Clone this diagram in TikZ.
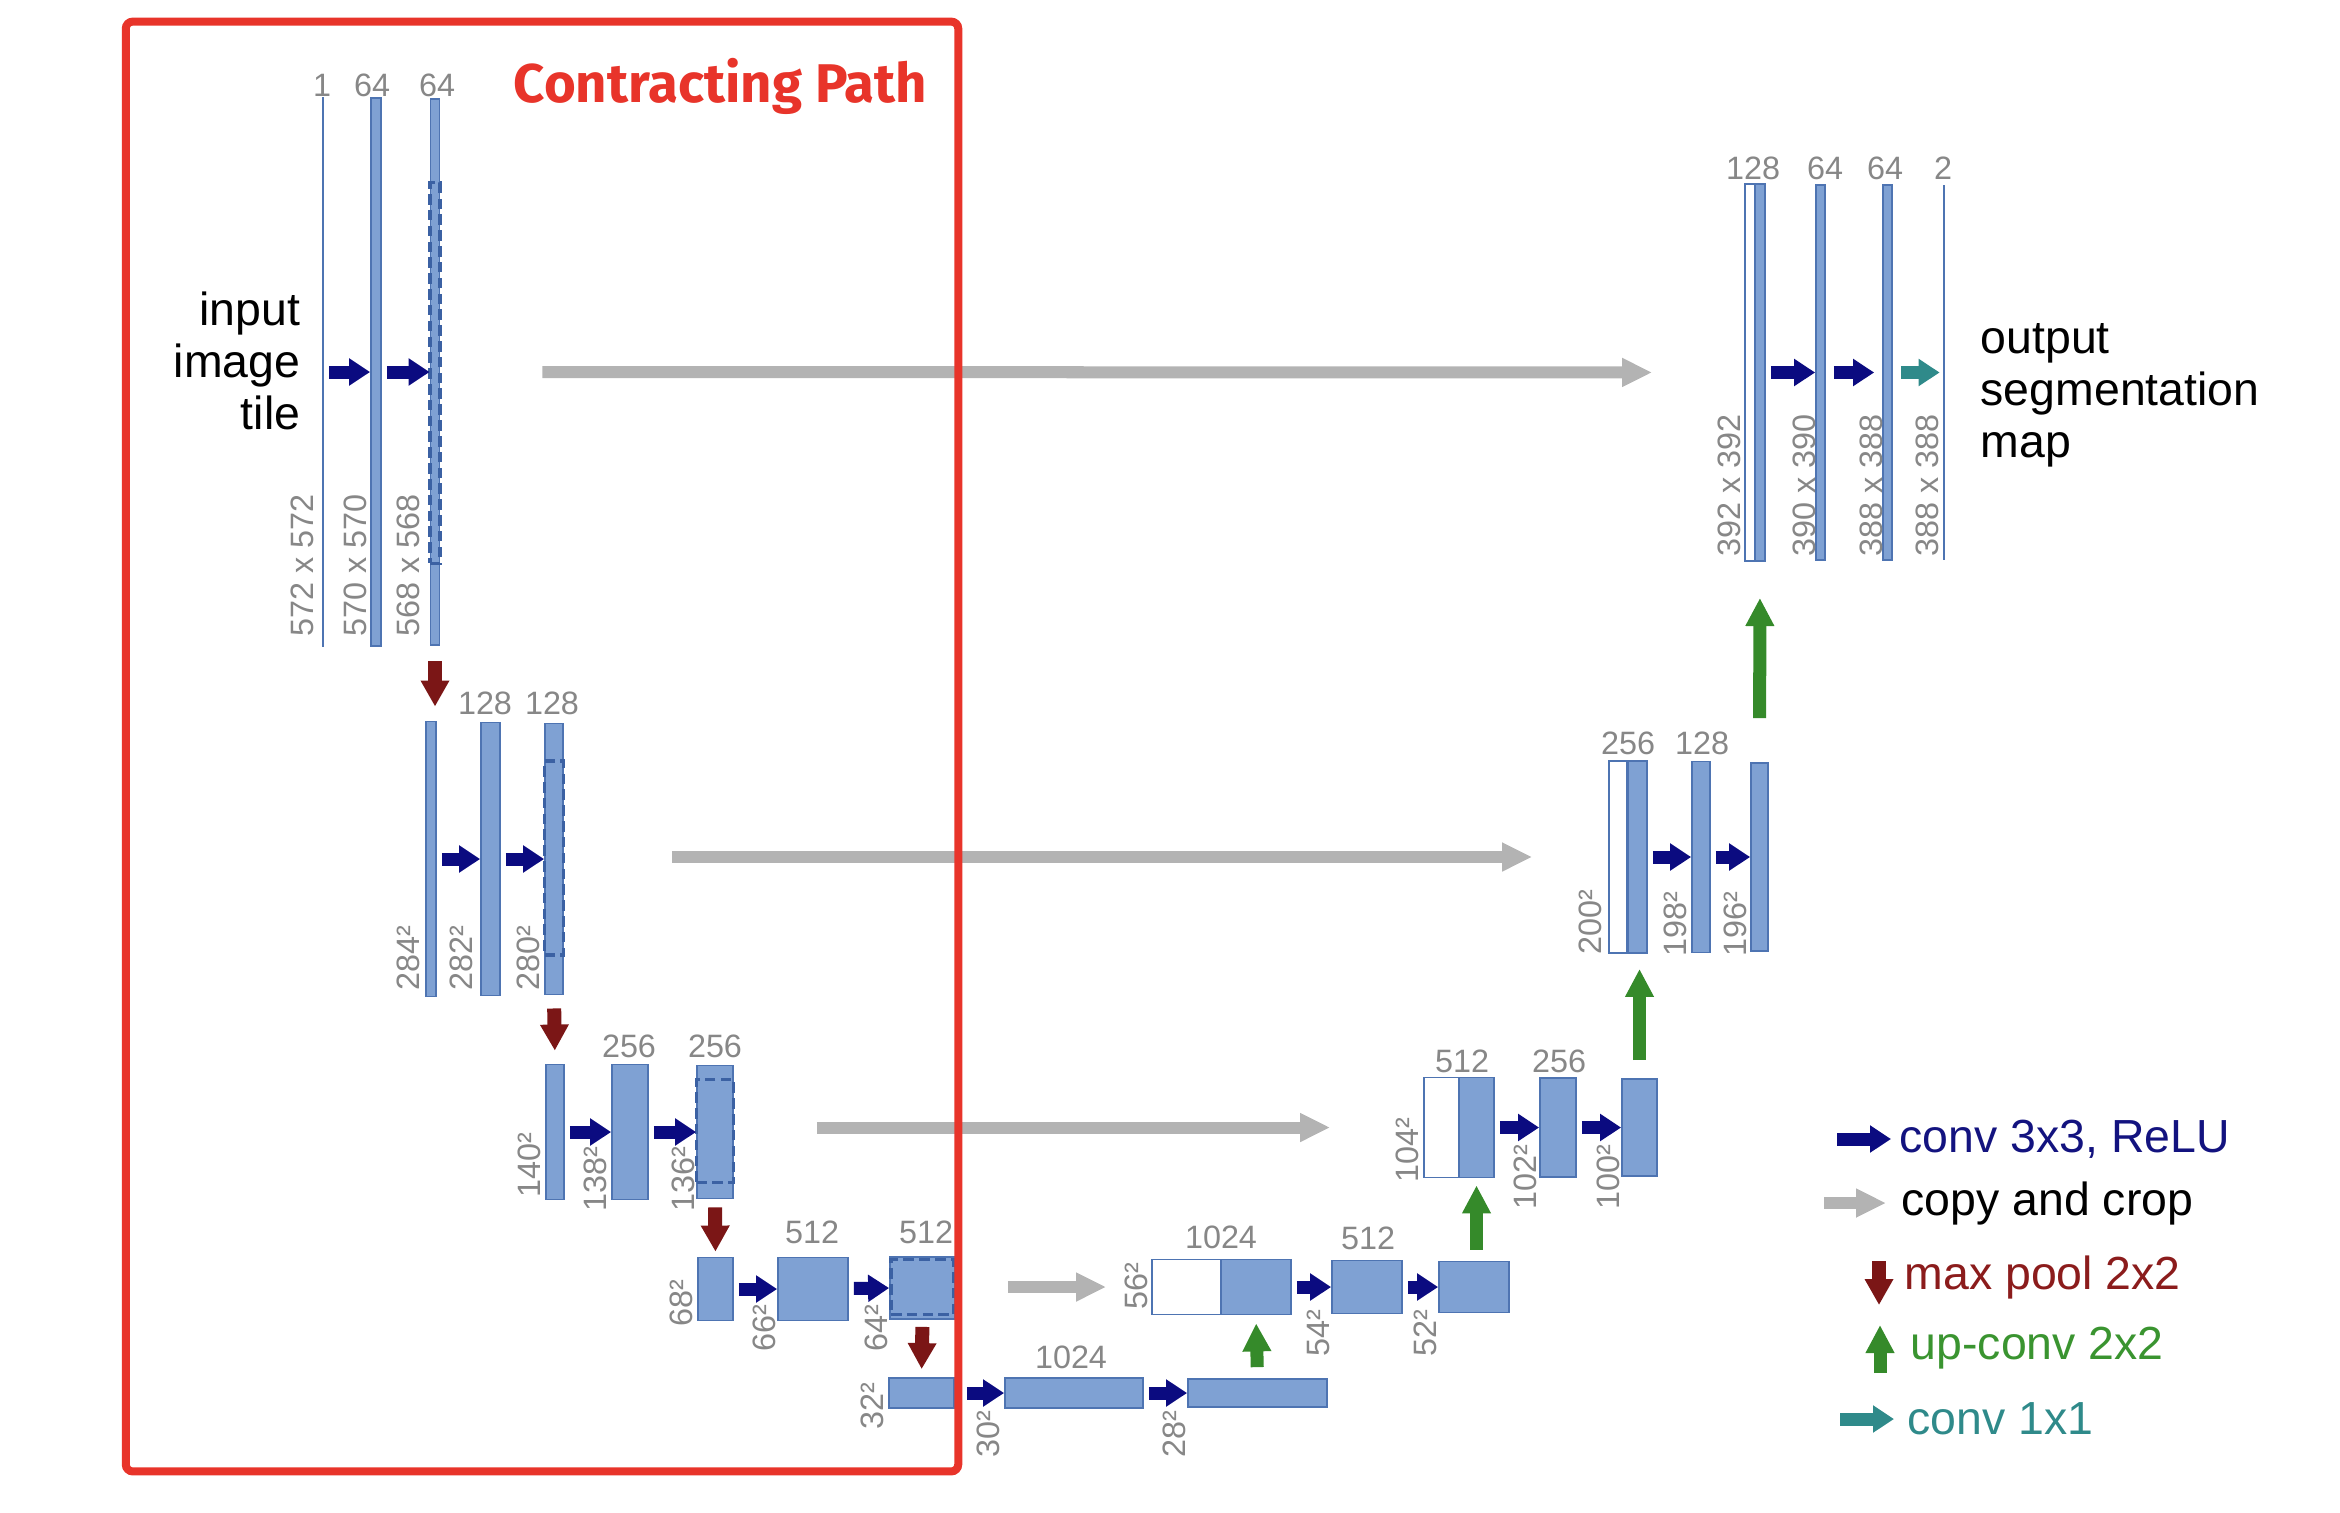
\documentclass[tikz,border=0pt]{standalone}
\usepackage{fontspec}
\setmainfont{Liberation Sans}
\newfontfamily\pathfont{Fira Sans}
\usepackage{tikz}
\usetikzlibrary{arrows.meta,positioning,calc}
\definecolor{UNetFill}{HTML}{7FA1D3}
\definecolor{UNetLine}{HTML}{4E74B2}
\definecolor{UNetCrop}{HTML}{3B61A3}
\definecolor{UNetConv}{HTML}{0B0B80}
\definecolor{UNetCopy}{HTML}{B3B3B3}
\definecolor{UNetPool}{HTML}{7B1616}
\definecolor{UNetUp}{HTML}{358A2A}
\definecolor{UNetOne}{HTML}{2F8A8A}
\definecolor{UNetNum}{HTML}{878787}
\definecolor{UNetRed}{HTML}{E8342A}
\definecolor{UNetConvTxt}{HTML}{13137F}
\definecolor{UNetPoolTxt}{HTML}{8B1C1C}
\definecolor{UNetUpTxt}{HTML}{3A9430}

\begin{document}
\begin{tikzpicture}[x=0.01cm, y=-0.01cm,
  sz/.style 2 args={minimum width=#1cm, minimum height=#2cm},
  blk/.style={draw=UNetLine, fill=UNetFill, line width=0.5pt, inner sep=0pt},
  wblk/.style={blk, fill=white},
  cropbox/.style={draw=UNetCrop, dashed, dash pattern=on 3pt off 1.5pt,
                  line width=0.9pt, inner sep=0pt},
  numlbl/.style={font=\fontsize{9.2}{10}\selectfont, text=UNetNum, inner sep=0pt},
  dimlbl/.style={numlbl, rotate=90, anchor=west},
  bigtxt/.style={font=\fontsize{13.2}{14.8}\selectfont, inner sep=0pt},
  legtxt/.style={font=\fontsize{13.2}{15}\selectfont, anchor=west, inner sep=0pt},
  convarr/.style={draw=UNetConv, line width=0.13cm,
                  -{Triangle[length=0.21cm, width=0.26cm]}, shorten <=0.05cm},
  onearr/.style={convarr, draw=UNetOne},
  copyarr/.style={draw=UNetCopy, line width=0.12cm,
                  -{Triangle[length=0.30cm, width=0.27cm]}},
  poolarr/.style={draw=UNetPool, line width=0.14cm,
                  -{Triangle[length=0.26cm, width=0.27cm]}},
  uparr/.style={draw=UNetUp, line width=0.13cm,
                -{Triangle[length=0.28cm, width=0.27cm]}}
]
\useasboundingbox (0,0) rectangle (2340,1512);

% Level 1 (contracting)
\node[blk, sz={0.01}{5.48}] (L1a) at (323,372) {};
\node[blk, sz={0.10}{5.48}] (L1b) at (376,372) {};
\node[blk, sz={0.09}{5.46}] (L1c) at (435,372) {};
\node[cropbox, sz={0.10}{3.80}] (K1) at (435,373) {};
\node[numlbl] (n1a) at (322,85) {1};
\node[numlbl] (n1b) at (372,85) {64};
\node[numlbl] (n1c) at (437,85) {64};
\node[dimlbl] (d1a) at (302,637) {572 x 572};
\node[dimlbl] (d1b) at (355,637) {570 x 570};
\node[dimlbl] (d1c) at (408,637) {568 x 568};
\node[bigtxt, align=right, anchor=east] (intile) at (301,361) {input\\image\\tile};

% Level 2
\node[blk, sz={0.10}{2.75}] (L2a) at (431,859) {};
\node[blk, sz={0.19}{2.73}] (L2b) at (490.5,859) {};
\node[blk, sz={0.18}{2.71}] (L2c) at (554,859) {};
\node[cropbox, sz={0.19}{1.94}] (K2) at (554,858) {};
\node[numlbl] (n2b) at (485,703) {128};
\node[numlbl] (n2c) at (552,703) {128};
\node[dimlbl] (d2a) at (408,991) {284²};
\node[dimlbl] (d2b) at (461,991) {282²};
\node[dimlbl] (d2c) at (528,991) {280²};

% Level 3
\node[blk, sz={0.18}{1.35}] (L3a) at (555,1132) {};
\node[blk, sz={0.36}{1.35}] (L3b) at (630,1132) {};
\node[blk, sz={0.36}{1.33}] (L3c) at (715,1132) {};
\node[cropbox, sz={0.37}{1.03}] (K3) at (715,1131) {};
\node[numlbl] (n3b) at (629,1046) {256};
\node[numlbl] (n3c) at (715,1046) {256};
\node[dimlbl] (d3a) at (529,1198) {140²};
\node[dimlbl] (d3b) at (595,1212) {138²};
\node[dimlbl] (d3c) at (683,1212) {136²};

% Level 4
\node[blk, sz={0.35}{0.63}] (L4a) at (715.5,1289) {};
\node[blk, sz={0.70}{0.63}] (L4b) at (813,1289) {};
\node[blk, sz={0.65}{0.62}] (L4c) at (922.5,1288) {};
\node[cropbox, sz={0.63}{0.55}] (K4) at (922.5,1287) {};
\node[numlbl] (n4b) at (812,1232) {512};
\node[numlbl] (n4c) at (926,1232) {512};
\node[dimlbl] (d4a) at (681,1327) {68²};
\node[dimlbl] (d4b) at (764,1352) {66²};
\node[dimlbl] (d4c) at (876,1352) {64²};

% Bottom level
\node[blk, sz={0.65}{0.30}] (L5a) at (921.5,1393) {};
\node[blk, sz={1.38}{0.30}] (L5b) at (1074,1393) {};
\node[blk, sz={1.39}{0.28}] (L5c) at (1257.5,1393) {};
\node[numlbl] (n5b) at (1071,1357) {1024};
\node[dimlbl] (d5a) at (872,1430) {32²};
\node[dimlbl] (d5b) at (988,1458) {30²};
\node[dimlbl] (d5c) at (1174,1458) {28²};

% Level 4 (expansive)
\node[wblk, sz={0.69}{0.55}] (R4w) at (1186.5,1287) {};
\node[blk, sz={0.70}{0.55}] (R4a) at (1256,1287) {};
\node[blk, sz={0.70}{0.53}] (R4b) at (1367,1287) {};
\node[blk, sz={0.70}{0.51}] (R4c) at (1474,1287) {};
\node[numlbl] (m4a) at (1221,1237) {1024};
\node[numlbl] (m4b) at (1368,1238) {512};
\node[dimlbl] (e4a) at (1136,1310) {56²};
\node[dimlbl] (e4b) at (1318,1357) {54²};
\node[dimlbl] (e4c) at (1425,1357) {52²};

% Level 3 (expansive)
\node[wblk, sz={0.35}{1.00}] (R3w) at (1441.5,1127.5) {};
\node[blk, sz={0.35}{1.00}] (R3a) at (1476.5,1127.5) {};
\node[blk, sz={0.36}{0.99}] (R3b) at (1558,1127.5) {};
\node[blk, sz={0.35}{0.97}] (R3c) at (1639.5,1127.5) {};
\node[numlbl] (m3a) at (1462,1061) {512};
\node[numlbl] (m3b) at (1559,1061) {256};
\node[dimlbl] (e3a) at (1407,1183) {104²};
\node[dimlbl] (e3b) at (1525,1210) {102²};
\node[dimlbl] (e3c) at (1608,1210) {100²};

% Level 2 (expansive)
\node[wblk, sz={0.18}{1.92}] (R2w) at (1618,857) {};
\node[blk, sz={0.19}{1.92}] (R2a) at (1637.5,857) {};
\node[blk, sz={0.18}{1.91}] (R2b) at (1701,857) {};
\node[blk, sz={0.17}{1.88}] (R2c) at (1759.5,857) {};
\node[numlbl] (m2a) at (1628,743) {256};
\node[numlbl] (m2b) at (1702,743) {128};
\node[dimlbl] (e2a) at (1590,955) {200²};
\node[dimlbl] (e2b) at (1675,957) {198²};
\node[dimlbl] (e2c) at (1735,957) {196²};

% Level 1 (expansive)
\node[wblk, sz={0.10}{3.77}] (R1w) at (1750,372.5) {};
\node[blk, sz={0.10}{3.77}] (R1a) at (1760,372.5) {};
\node[blk, sz={0.09}{3.75}] (R1b) at (1820.5,372.5) {};
\node[blk, sz={0.09}{3.75}] (R1c) at (1887.5,372.5) {};
\node[blk, sz={0.01}{3.74}] (R1d) at (1944,372.5) {};
\node[numlbl] (m1a) at (1753,168) {128};
\node[numlbl] (m1b) at (1825,168) {64};
\node[numlbl] (m1c) at (1885,168) {64};
\node[numlbl] (m1d) at (1943,168) {2};
\node[dimlbl] (e1a) at (1729,557) {392 x 392};
\node[dimlbl] (e1b) at (1804,557) {390 x 390};
\node[dimlbl] (e1c) at (1871,557) {388 x 388};
\node[dimlbl] (e1d) at (1927,557) {388 x 388};
\node[bigtxt, align=left, anchor=west] (outmap) at (1980,395) {output\\segmentation\\map};

% conv 3x3 arrows
\draw[convarr] (L1a) -- (L1b.west);
\draw[convarr] (L1b) -- (L1c.west);
\draw[convarr] (L2a) -- (L2b.west);
\draw[convarr] (L2b) -- (L2c.west);
\draw[convarr] (L3a) -- (L3b.west);
\draw[convarr] (L3b) -- (L3c.west);
\draw[convarr] (L4a) -- (L4b.west);
\draw[convarr] (L4b) -- (L4c.west);
\draw[convarr, shorten <=0.12cm] (L5a.east) -- (L5b.west);
\draw[convarr] (L5b.east) -- (L5c.west);
\draw[convarr] (R4a.east) -- (R4b.west);
\draw[convarr] (R4b.east) -- (R4c.west);
\draw[convarr] (R3a.east) -- (R3b.west);
\draw[convarr] (R3b.east) -- (R3c.west);
\draw[convarr] (R2a.east) -- (R2b.west);
\draw[convarr] (R2b.east) -- (R2c.west);
\draw[convarr] (R1a.east) -- (R1b.west);
\draw[convarr, shorten <=0.08cm, shorten >=0.08cm] (R1b.east) -- (R1c.west);
\draw[onearr, shorten <=0.08cm, shorten >=0.03cm] (R1c.east) -- (R1d.west);

% copy and crop
\draw[copyarr, shorten <=1.02cm, shorten >=0.92cm] (L1c.east) -- (R1w.west);
\draw[copyarr, shorten <=1.08cm, shorten >=0.76cm] (L2c.east |- R2w) -- (R2w.west);
\draw[copyarr, shorten <=0.83cm, shorten >=0.93cm] (L3c.east |- R3w) -- (R3w.west);
\draw[copyarr, shorten <=0.52cm, shorten >=0.45cm] (L4c.east |- R4w) -- (R4w.west);

% max pool
\draw[poolarr, shorten <=0.15cm, shorten >=0.14cm] (L1c.south) -- (L1c.south |- L2a.north);
\draw[poolarr, shorten <=0.13cm, shorten >=0.13cm] (L2c.south) -- (L3a.north);
\draw[poolarr, shorten <=0.08cm, shorten >=0.05cm] (L3c.south) -- (L4a.north);
\draw[poolarr, shorten <=0.07cm, shorten >=0.08cm] (L4c.south) -- (L5a.north);

% up-conv
\draw[uparr, shorten <=0.11cm, shorten >=0.08cm] (L5c.north) -- (R4a.south);
\draw[uparr, shorten <=0.11cm, shorten >=0.07cm] (R4c.north -| R3a) -- (R3a.south);
\draw[uparr, shorten <=0.18cm, shorten >=0.15cm] (R3c.north) -- (R3c.north |- R2a.south);
\draw[uparr, shorten <=0.44cm, shorten >=0.36cm] (R2c.north) -- (R1a.south);

% Legend
\node[legtxt, text=UNetConvTxt] (lg1) at (1899,1139) {conv 3x3, ReLU};
\node[legtxt] (lg2) at (1901,1203) {copy and crop};
\node[legtxt, text=UNetPoolTxt] (lg3) at (1904,1277) {max pool 2x2};
\node[legtxt, text=UNetUpTxt] (lg4) at (1910,1348) {up-conv 2x2};
\node[legtxt, text=UNetOne] (lg5) at (1907,1419) {conv 1x1};
\coordinate (lg1s) at (1837,1139);
\coordinate (lg2s) at (1824,1203);
\coordinate (lg3s) at (1879,1261);
\coordinate (lg3e) at (1879,1305);
\coordinate (lg4s) at (1880,1373);
\coordinate (lg4e) at (1880,1325);
\coordinate (lg5s) at (1840,1419);
\draw[convarr, shorten <=0pt, shorten >=0.08cm] (lg1s) -- (lg1.west);
\draw[copyarr, shorten >=0.15cm] (lg2s) -- (lg2.west);
\draw[poolarr] (lg3s) -- (lg3e);
\draw[uparr] (lg4s) -- (lg4e);
\draw[onearr, shorten <=0pt, shorten >=0.13cm] (lg5s) -- (lg5.west);

% Contracting path frame
\node[draw=UNetRed, line width=0.08cm, rounded corners=2pt, inner sep=0pt,
      minimum width=8.32cm, minimum height=14.49cm] (cpbox) at (542,746.5) {};
\node[font=\pathfont\bfseries\fontsize{15.5}{18}\selectfont, text=UNetRed,
      anchor=base west, inner sep=0pt] (cptitle) at (513,102) {Contracting Path};

\end{tikzpicture}
\end{document}
